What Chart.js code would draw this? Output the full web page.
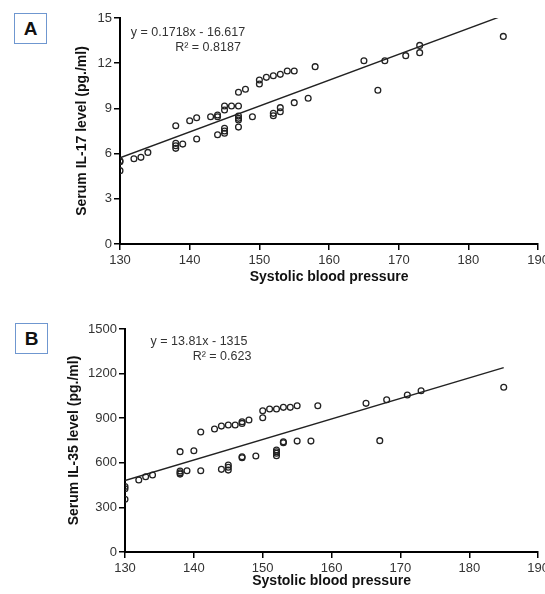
<!DOCTYPE html>
<html>
<head>
<meta charset="utf-8">
<script src="https://cdn.jsdelivr.net/npm/chart.js@4.4.0/dist/chart.umd.min.js"></script>
<style>
  html, body { margin: 0; padding: 0; background: #fff; overflow: hidden; }
  body { width: 545px; height: 594px; position: relative; }
  canvas { position: absolute; left: 0; }
  #chartA { top: 0; }
  #chartB { top: 304px; }
  .tag {
    position: absolute; width: 31px; height: 29px; border: 1px solid #6f97d0;
    font: bold 19px "Liberation Sans", Arial, sans-serif; color: #111;
    text-align: center; line-height: 29px; background: #fff;
  }
</style>
</head>
<body>
<div class="tag" style="left:14px;top:13px;">A</div>
<div class="tag" style="left:15px;top:323px;">B</div>
<canvas id="chartA" width="552" height="290"></canvas>
<canvas id="chartB" width="552" height="290"></canvas>
<script>
// Panel A: systolic BP vs IL-17
let sbpA = [130,130,130,132,133,134,138,138,138,138,139,140,141,141,143,144,144,144,145,145,145,145,145,146,147,147,147,147,147,147,148,149,150,150,151,152,152,152,153,153,153,154,155,155,157,158,165,167,168,171,173,173,185];
let il17 = [5.46,5.52,4.87,5.66,5.75,6.08,7.85,6.68,6.52,6.35,6.63,8.18,8.38,6.97,8.45,8.45,8.56,7.25,9.16,8.89,7.68,7.5,7.35,9.16,9.16,10.07,8.49,8.34,8.23,7.76,10.27,8.45,10.62,10.88,11.06,11.17,8.67,8.51,11.26,9.05,8.78,11.48,11.48,9.38,9.67,11.77,12.16,10.2,12.16,12.5,13.18,12.7,13.78];
let fitA = { slope: 0.1718, intercept: -16.617, r2: '0.8187' };

// Panel B: systolic BP vs IL-35
let sbpB = [130,130,130,132,133,134,138,138,138,138,139,140,141,141,143,144,144,145,145,145,145,146,147,147,147,147,148,149,150,150,151,152,152,152,152,152,153,153,153,154,155,155,157,158,165,167,168,171,173,185];
let il35 = [440,425,355,484,506,518,675,545,533,524,547,681,807,547,827,847,556,854,585,570,551,854,876,865,641,634,888,646,950,903,962,962,686,674,664,648,973,742,735,973,984,746,746,984,1000,749,1024,1056,1085,1108];
let fitB = { slope: 13.81, intercept: -1315, r2: '0.623' };

let xTicks = { min: 130, max: 190, step: 10 };
let yTicksA = { min: 0, max: 15, step: 3 };
let yTicksB = { min: 0, max: 1500, step: 300 };

const FONT = '"Liberation Sans", Arial, sans-serif';

function makeChart(id, xs, ys, fit, yT, yTitle, opts) {
    let pts = xs.map((x, i) => ({ x: x, y: ys[i] }));
    let x0 = Math.min(...xs), x1 = Math.max(...xs);
    let trend = [x0, x1].map(x => ({ x: x, y: fit.slope * x + fit.intercept }));
    let eqText = 'y = ' + fit.slope + 'x - ' + Math.abs(fit.intercept);
    // equation label plugin
    let eqPlugin = {
        id: 'eq_' + id,
        afterDatasetsDraw(chart) {
            let c = chart.ctx, a = chart.chartArea;
            c.save();
            c.fillStyle = '#333';
            c.font = '12.5px ' + FONT;
            c.textAlign = 'center';
            c.textBaseline = 'middle';
            c.fillText(eqText, a.left + opts.eqDx, a.top + opts.eqDy);
            c.fillText('R\u00b2 = ' + fit.r2, a.left + opts.eqDx + opts.r2Dx, a.top + opts.eqDy + 15);
            c.restore();
        }
    };
    return new Chart(document.getElementById(id), {
        type: 'scatter',
        data: {
            datasets: [
                {
                    data: pts,
                    pointRadius: 2.9,
                    pointBorderWidth: 1.3,
                    pointBorderColor: '#222',
                    pointBackgroundColor: 'rgba(0,0,0,0)',
                    showLine: false
                },
                {
                    type: 'line',
                    data: trend,
                    borderColor: '#222',
                    borderWidth: 1.4,
                    pointRadius: 0,
                    fill: false
                }
            ]
        },
        options: {
            responsive: false,
            animation: false,
            layout: { padding: { left: opts.padLeft, top: opts.padTop, right: 0, bottom: 0 } },
            plugins: { legend: { display: false }, tooltip: { enabled: false } },
            scales: {
                x: {
                    type: 'linear',
                    min: xTicks.min, max: xTicks.max,
                    afterFit: s => { s.height = opts.xHeight; },
                    ticks: { stepSize: xTicks.step, color: '#333', padding: 3, font: { family: FONT, size: 13 } },
                    grid: { drawOnChartArea: false, drawTicks: true, tickLength: 6, color: '#000', lineWidth: 1.5 },
                    border: { color: '#000', width: 2 },
                    title: { display: true, text: 'Systolic blood pressure', color: '#111', padding: { top: 4, bottom: 4 }, font: { family: FONT, size: 14, weight: 'bold' } }
                },
                y: {
                    min: yT.min, max: yT.max,
                    afterFit: s => { s.width = opts.yWidth; },
                    ticks: { stepSize: yT.step, color: '#333', padding: 2, font: { family: FONT, size: 13 },
                             callback: v => String(v) },
                    grid: { drawOnChartArea: false, drawTicks: true, tickLength: 6, color: '#000', lineWidth: 1.5 },
                    border: { color: '#000', width: 2 },
                    title: { display: true, text: yTitle, color: '#111', padding: { top: 4, bottom: 4 }, font: { family: FONT, size: 14, weight: 'bold' } }
                }
            }
        },
        plugins: [eqPlugin]
    });
}

makeChart('chartA', sbpA, il17, fitA, yTicksA, 'Serum IL-17 level (pg./ml)',
    { padLeft: 70, yWidth: 50, padTop: 18, xHeight: 46, eqDx: 68, eqDy: 15, r2Dx: 20 });
makeChart('chartB', sbpB, il35, fitB, yTicksB, 'Serum IL-35 level (pg./ml)',
    { padLeft: 62, yWidth: 63, padTop: 25, xHeight: 42, eqDx: 74, eqDy: 13, r2Dx: 23 });
</script>
</body>
</html>
